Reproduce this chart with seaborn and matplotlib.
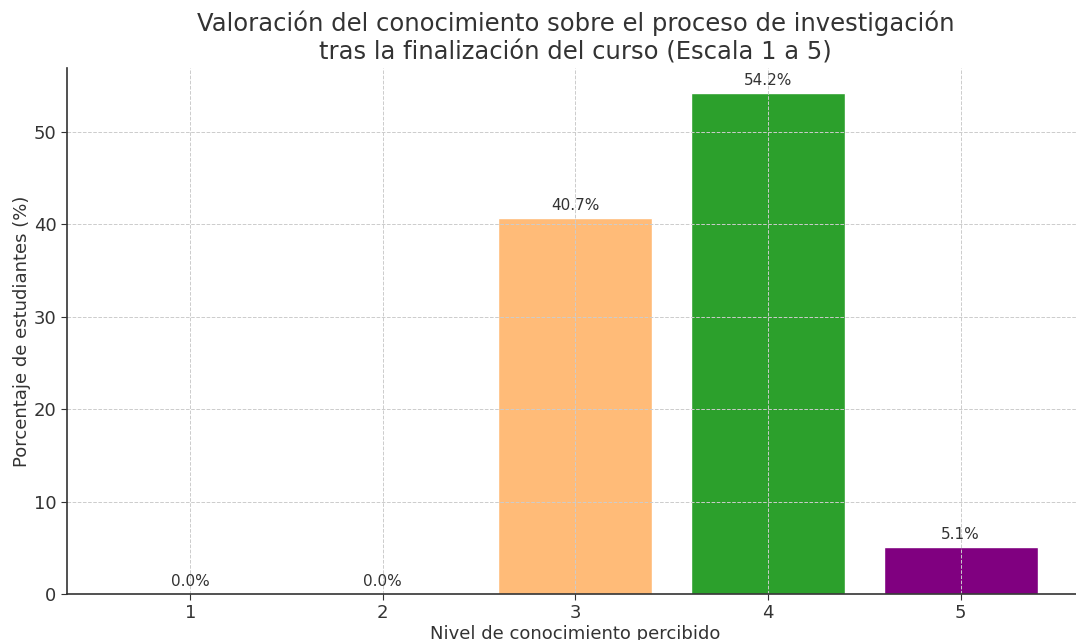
import matplotlib
matplotlib.use("Agg")
import matplotlib.pyplot as plt
import seaborn as sns
import pandas as pd

# Survey results: perceived research-process knowledge after the course
niveles = ["1", "2", "3", "4", "5"]
porcentajes = [0.0, 0.0, 40.7, 54.2, 5.1]
colores = ["#1f77b4", "#d62728", "#ffbb78", "#2ca02c", "#800080"]

sns.set_style("ticks")
plt.rcParams["font.family"] = ["DejaVu Sans"]
text_color = "#333333"

df = pd.DataFrame({"nivel": niveles, "pct": porcentajes})

fig = plt.figure(figsize=(10.76, 6.4), dpi=100)
ax = fig.add_axes([0.0623, 0.0719, 0.945, 0.822])

sns.barplot(data=df, x="nivel", y="pct", hue="nivel", palette=colores,
            legend=False, width=0.8, saturation=1, ax=ax)

for i, v in enumerate(porcentajes):
    ax.text(i, v + 0.5, f"{v:.1f}%", ha="center", va="bottom",
            fontsize=11, color=text_color)

ax.set_axisbelow("line")
ax.grid(True, linestyle="--", linewidth=0.7, color="#cccccc")
ax.set_ylim(0, max(porcentajes) * 1.05)
ax.set_xlim(-0.64, 4.64)

ax.set_title("Valoración del conocimiento sobre el proceso de investigación\n"
             "tras la finalización del curso (Escala 1 a 5)",
             fontsize=17.5, color=text_color, pad=6, linespacing=1.25)
ax.set_xlabel("Nivel de conocimiento percibido", fontsize=13, color=text_color,
              labelpad=2)
ax.set_ylabel("Porcentaje de estudiantes (%)", fontsize=13, color=text_color,
              labelpad=2)
ax.tick_params(axis="both", labelsize=13, colors=text_color, length=4)

sns.despine(ax=ax, top=True, right=True)
for s in ("left", "bottom"):
    ax.spines[s].set_color(text_color)
    ax.spines[s].set_linewidth(1.2)

fig.savefig("out.png", dpi=100)
